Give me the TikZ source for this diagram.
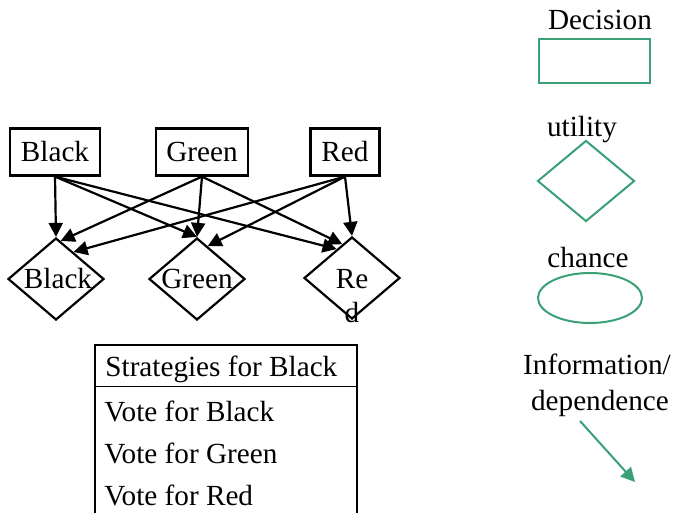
\documentclass[tikz,border=0pt]{standalone}
\usepackage{fontspec}
\setmainfont{Liberation Serif}
\usepackage{tikz}
\usetikzlibrary{arrows.meta}
\usetikzlibrary{positioning}
\usetikzlibrary{shapes.geometric}
\definecolor{legendgreen}{RGB}{58,160,118}
\tikzset{
  idnode/.style = {align=center, inner sep=0pt, text centered,
    font=\fontsize{14.6}{17}\selectfont},
  id_dec/.style = {idnode, rectangle, draw=black, line width=1.1pt,
    minimum height=23.5pt},% influence diagram, decision node
  id_util/.style = {idnode, diamond, draw=black, line width=1.1pt,
    minimum width=48pt, minimum height=41pt},% influence diagram, utility node
  id_txt/.style = {idnode},% plain label
  id_arr/.style = {->, line width=1.1pt},% dependence arc
  leg_dec/.style = {idnode, rectangle, draw=legendgreen, line width=1pt,
    minimum width=55.5pt, minimum height=22pt},% legend, decision
  leg_util/.style = {idnode, diamond, draw=legendgreen, line width=1pt,
    minimum width=48.5pt, minimum height=40.5pt},% legend, utility
  leg_chance/.style = {idnode, ellipse, draw=legendgreen, line width=1pt,
    minimum width=52pt, minimum height=25pt},% legend, chance
  leg_arr/.style = {->, draw=legendgreen, line width=1pt}% legend, arc
}

\begin{document}
\begin{tikzpicture}[x=0.5pt,y=-0.5pt,>={Triangle[length=7pt,width=7pt]}]
\useasboundingbox (0,0) rectangle (675,513);
% decision nodes
\node [id_dec, minimum width=45pt] (bdec) at (55,152) {Black};
\node [id_dec, minimum width=46pt] (gdec) at (202,152) {Green};
\node [id_dec, minimum width=34.5pt] (rdec) at (345,152) {Red};
% utility nodes
\node [id_util] (butil) at (56,279) {};
\node [id_util] (gutil) at (197,279) {};
\node [id_util] (rutil) at (352,278) {};
\node at (butil) [id_txt, xshift=1pt] (butxt) {Black};
\node at (gutil) [id_txt] (gutxt) {Green};
\node at (rutil) [id_txt, yshift=-9pt] (rutxt) {Re\\d};

\draw[id_arr] (bdec.south) -- (butil.north);
\draw[id_arr] (bdec.south) -- (gutil.north);
\draw[id_arr] (bdec.south) -- (rutil.118);
\draw[id_arr] (gdec.south) -- (butil.83);
\draw[id_arr] (gdec.south) -- (gutil.north);
\draw[id_arr] (gdec.south) -- (rutil.106);
\draw[id_arr] (rdec.south) -- (butil.57);
\draw[id_arr] (rdec.south) -- (gutil.72);
\draw[id_arr] (rdec.south) -- (rutil.north);

% strategy table
\coordinate (tnw) at (95,345);
\coordinate (tne) at (357,345);
\coordinate (tsw) at (95,513);
\coordinate (tse) at (357,513);
\coordinate (tmw) at (95,387);
\coordinate (tme) at (357,387);
\draw[line width=1.1pt] (tsw) -- (tnw) -- (tne) -- (tse);
\draw[line width=0.5pt] (tmw) -- (tme);
\node [id_txt, anchor=base west] (strat) at (105,377) {Strategies for Black};
\node [id_txt, anchor=base west] (vblack) at (104,422) {Vote for Black};
\node [id_txt, anchor=base west] (vgreen) at (104,463) {Vote for Green};
\node [id_txt, anchor=base west] (vred) at (104,505) {Vote for Red};

% legend
\node [id_txt, anchor=base] (ldec) at (600,30) {Decision};
\node [leg_dec] (ldecbox) at (594.5,61) {};
\node [id_txt, anchor=base] (lutil) at (582,137) {utility};
\node [leg_util] (lutilbox) at (586,181) {};
\node [id_txt, anchor=base] (lchance) at (588,268) {chance};
\node [leg_chance] (lchancebox) at (590,298) {};
\node [id_txt, anchor=base] (linfo) at (597,375) {Information/};
\node [id_txt, anchor=base] (ldep) at (600,410) {dependence};
\coordinate (la) at (580,421);
\coordinate (lb) at (635,482);
\draw[leg_arr] (la) -- (lb);
\end{tikzpicture}
\end{document}
